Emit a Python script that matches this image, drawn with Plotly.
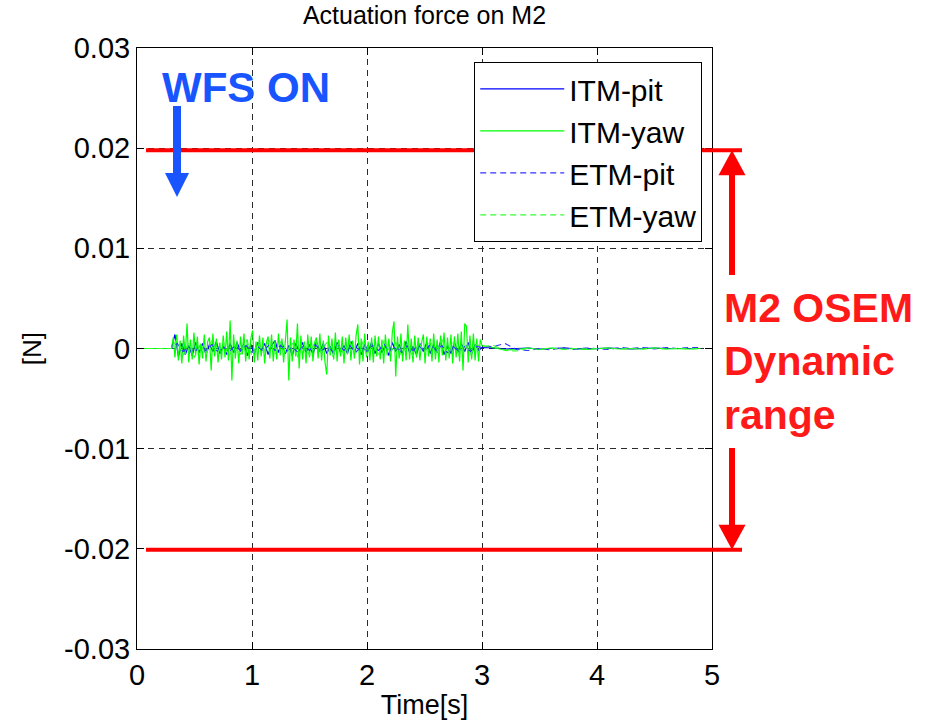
import plotly.graph_objects as go

# ---------------- data (forces read in mN, converted to N) ----------------
# ITM-yaw (green solid): dense noise between 0.30 s and 3.00 s
itm_yaw_noise_mN = [
    0.0, 1.1, -0.9, 1.4, -1.2, 0.8, -1.5, 1.3, -0.6, 2.5,
    -1.4, 0.9, -1.1, 1.6, -0.7, 1.2, -1.6, 0.5, -1.0, 1.4,
    -1.3, 0.7, 1.1, -2.2, 1.5, -0.8, 1.0, -1.4, 0.6, -1.1,
    1.3, -0.9, 1.7, -1.2, 2.8, -3.2, 1.4, -1.0, 0.8, -1.5,
    1.2, -0.6, 1.5, -1.3, 0.9, -1.1, 1.0, 1.8, -1.4, 0.7,
    -1.2, 1.3, -0.8, 1.1, -1.5, 0.6, 1.2, -1.0, 1.4, -1.3,
    0.8, -1.1, 1.5, -0.7, 1.0, -1.4, 1.2, 2.9, -3.2, 1.1,
    -1.3, 0.9, -0.8, 2.5, -2.0, 1.3, -1.1, 0.7, -1.5, 1.4,
    -0.9, 1.2, -1.3, 0.6, 1.1, -1.0, 1.5, -1.2, 0.8, -1.4,
    -2.6, 1.3, -0.7, 1.0, -1.1, 1.6, -1.3, 0.9, -0.8, 1.2,
    -1.5, 1.1, -0.6, 1.4, -1.2, 0.8, -1.0, 1.3, 2.4, -1.6,
    1.0, -1.3, 1.5, -0.9, 0.7, -1.2, 1.1, -1.4, 1.3, -0.8,
    1.2, -1.1, 0.9, -1.5, 1.4, -0.7, 1.0, -1.3, 1.6, 2.7,
    -2.8, 1.2, -1.0, 1.5, -1.3, 0.8, -1.2, 2.4, -1.1, 1.0,
    -1.4, 1.3, -0.9, 1.1, -1.2, 0.6, 1.4, -1.5, 1.2, -0.8,
    1.0, -1.3, 1.5, -1.1, 0.9, -1.4, 1.3, -0.7, 1.6, -1.2,
    1.1, -1.0, 1.4, -1.5, 1.2, -0.9, 1.5, -1.3, 1.7, -2.2,
    2.5, 2.2, -1.4, 1.3, -1.1, 1.5, -1.2, 1.0, -1.3, 0.9,
    0.3,
]
# ITM-pit (blue solid)
itm_pit_noise_mN = [
    0.0, 1.4, -0.8, 0.5, -0.6, 0.3, -0.7, 0.6, -0.4, 0.5,
    -0.6, 0.4, -0.3, 0.7, -0.5, 0.2, -0.6, 0.5, -0.4, 0.6,
    -0.3, 0.5, -0.7, 0.4, -0.5, 0.6, -0.2, 0.5, -0.6, 0.3,
    0.8, -0.4, 0.6, -0.5, 0.3, -0.7, 0.5, -0.3, 0.6, -0.4,
    0.4, -0.6, 0.7, -0.3, 0.5, -0.5, 0.2, -0.6, 0.6, -0.4,
    0.3, -0.5, 0.7, -0.4, 0.5, -0.6, 0.4, -0.3, 0.6, -0.5,
    0.5, -0.4, 0.3, -0.7, 0.6, -0.3, 0.4, -0.5, 0.7, -0.4,
    0.2, -0.6, 0.5, -0.3, 0.6, -0.5, 0.4, -0.4, 0.7, -0.6,
    0.3, -0.5, 0.6, -0.4, 0.5, -0.3, 0.6, -0.5, 0.4, -0.2,
    0.1,
]
# ETM-pit (blue dashed)
etm_pit_noise_mN = [
    0.0, 0.5, -0.3, 0.2, -0.4, 0.3, -0.2, 0.4, -0.3, 0.2,
    -0.4, 0.3, -0.2, 0.3, -0.4, 0.2, -0.3, 0.4, -0.2, 0.3,
    -0.3, 0.2, -0.4, 0.3, -0.2, 0.4, -0.3, 0.2, -0.3, 0.4,
    -0.2, 0.3, -0.4, 0.2, -0.3, 0.3, -0.2, 0.4, -0.3, 0.2,
    -0.4, 0.3, -0.2, 0.3, -0.3, 0.4, -0.2, 0.3, -0.4, 0.2,
    -0.3, 0.2, -0.3, 0.2, 0.1,
]
# ETM-yaw (green dashed)
etm_yaw_noise_mN = [
    0.0, 0.9, -0.7, 0.6, -0.9, 0.5, -0.6, 0.8, -0.5, 0.7,
    -0.8, 0.4, -0.6, 0.9, -0.7, 0.5, -0.4, 0.8, -0.6, 0.7,
    -0.5, 0.6, -0.9, 0.5, -0.7, 0.8, -0.4, 0.6, -0.8, 0.5,
    -0.6, 0.7, -0.5, 0.9, -0.7, 0.4, -0.6, 0.8, -0.5, 0.6,
    -0.7, 0.5, -0.8, 0.6, -0.4, 0.7, -0.6, 0.9, -0.5, 0.6,
    -0.7, 0.5, -0.6, 0.4, 0.2,
]
# settled tails after WFS transient (3.1 s ... 4.9 s)
itm_pit_tail_mN = [0.05, -0.05, 0.0, 0.05, -0.05, 0.0, 0.05, 0.0, -0.05, 0.0,
                   0.05, 0.0, -0.05, 0.0, 0.05, 0.0, 0.0, 0.05, 0.0]
itm_yaw_tail_mN = [0.1, -0.15, -0.1, 0.05, -0.1, 0.05, -0.05, 0.0, -0.1, 0.0,
                   0.05, -0.05, 0.0, -0.05, 0.05, -0.05, 0.0, -0.05, 0.0]
etm_pit_tail_mN = [0.2, 0.5, -0.1, -0.2, 0.0, -0.15, 0.1, -0.1, 0.05, 0.0,
                   -0.1, 0.1, 0.0, 0.1, -0.05, 0.1, 0.0, 0.1, 0.1]
etm_yaw_tail_mN = [0.3, -0.2, -0.25, 0.05, -0.1, 0.05, -0.1, 0.0, -0.05, 0.0,
                   0.05, -0.05, 0.0, -0.05, 0.05, -0.05, 0.0, -0.05, 0.0]

# sample times (s)
t_itm_yaw_noise = [round(0.30 + 0.015 * i, 3) for i in range(len(itm_yaw_noise_mN))]
t_itm_pit_noise = [round(0.30 + 0.03 * i, 3) for i in range(len(itm_pit_noise_mN))]
t_etm_noise = [round(0.30 + 0.05 * i, 3) for i in range(len(etm_pit_noise_mN))]
t_tail = [round(3.1 + 0.1 * i, 2) for i in range(len(itm_pit_tail_mN))]

series_names = ["ITM-pit", "ITM-yaw", "ETM-pit", "ETM-yaw"]
series_colors = ["#0000ff", "#00ff00", "#3333ff", "#33ff33"]

dyn_range_top = 0.0198
dyn_range_bottom = -0.0201

xtick_vals = [0, 1, 2, 3, 4, 5]
xtick_text = ["0", "1", "2", "3", "4", "5"]
ytick_vals = [-0.03, -0.02, -0.01, 0, 0.01, 0.02, 0.03]
ytick_text = ["-0.03", "-0.02", "-0.01", "0", "0.01", "0.02", "0.03"]
y_range = [-0.03, 0.03]
x_range = [0, 5]


def to_N(vals):
    return [v * 1e-3 for v in vals]


series = [
    ([0.0] + t_itm_pit_noise + t_tail, to_N([0.0] + itm_pit_noise_mN + itm_pit_tail_mN), "solid"),
    ([0.0] + t_itm_yaw_noise + t_tail, to_N([0.0] + itm_yaw_noise_mN + itm_yaw_tail_mN), "solid"),
    ([0.0] + t_etm_noise + t_tail, to_N([0.0] + etm_pit_noise_mN + etm_pit_tail_mN), "6px,4px"),
    ([0.0] + t_etm_noise + t_tail, to_N([0.0] + etm_yaw_noise_mN + etm_yaw_tail_mN), "6px,4px"),
]

FONT = "Liberation Sans, Arial, Helvetica, sans-serif"

fig = go.Figure()
for (tx, yv, dash), name, col in zip(series, series_names, series_colors):
    fig.add_trace(go.Scatter(x=tx, y=yv, mode="lines", name=name,
                             line=dict(color=col, width=1.2, dash=dash)))


def ypaper(v):
    return (v - y_range[0]) / (y_range[1] - y_range[0])


RED = "#ff0000"
BLUE = "#1955ff"
shapes = []
# dynamic range lines
for v in (dyn_range_top, dyn_range_bottom):
    shapes.append(dict(type="line", xref="paper", yref="paper", x0=0.0157, x1=1.0522,
                       y0=ypaper(v), y1=ypaper(v), line=dict(color=RED, width=4)))
# red double arrow (split around text)
ax = 1.0348
hw = 0.0235
yt = ypaper(dyn_range_top)
yb = ypaper(dyn_range_bottom)
head = 25 / 601
shapes.append(dict(type="line", xref="paper", yref="paper", x0=ax, x1=ax,
                   y0=yt - head + 0.003, y1=(649 - 275) / 601, line=dict(color=RED, width=6)))
shapes.append(dict(type="line", xref="paper", yref="paper", x0=ax, x1=ax,
                   y0=(649 - 448) / 601, y1=yb + head - 0.003, line=dict(color=RED, width=6)))
shapes.append(dict(type="path", xref="paper", yref="paper",
                   path=f"M {ax} {yt} L {ax - hw} {yt - head} L {ax + hw} {yt - head} Z",
                   fillcolor=RED, line=dict(width=0)))
shapes.append(dict(type="path", xref="paper", yref="paper",
                   path=f"M {ax} {yb} L {ax - hw} {yb + head} L {ax + hw} {yb + head} Z",
                   fillcolor=RED, line=dict(width=0)))
# blue arrow
bx = 0.0696
bhw = 0.0209
b_top = (649 - 106) / 601
b_base = (649 - 173) / 601
b_tip = (649 - 197) / 601
shapes.append(dict(type="line", xref="paper", yref="paper", x0=bx, x1=bx,
                   y0=b_top, y1=b_base - 0.003, line=dict(color=BLUE, width=8)))
shapes.append(dict(type="path", xref="paper", yref="paper",
                   path=f"M {bx} {b_tip} L {bx - bhw} {b_base} L {bx + bhw} {b_base} Z",
                   fillcolor=BLUE, line=dict(width=0)))

annotations = [
    dict(text="<b>WFS ON</b>", xref="paper", yref="paper", x=0.040, y=(649 - 87) / 601,
         xanchor="left", yanchor="middle", showarrow=False,
         font=dict(family=FONT, size=42, color=BLUE)),
    dict(text="<b>M2 OSEM<br>Dynamic<br>range</b>", xref="paper", yref="paper",
         x=1.0174, y=(649 - 361) / 601, xanchor="left", yanchor="middle", align="left",
         showarrow=False, font=dict(family=FONT, size=41, color="#ff1a1a")),
]

axis_common = dict(showline=True, linecolor="black", linewidth=1, mirror="allticks",
                   ticks="inside", ticklen=7, tickcolor="black", tickwidth=1,
                   showgrid=True, gridcolor="#2a2a2a", gridwidth=1, griddash="6px,5px",
                   zeroline=False, tickfont=dict(family=FONT, size=29, color="black"))

fig.update_layout(
    width=936, height=724,
    margin=dict(l=137, r=224, t=48, b=75, autoexpand=False),
    paper_bgcolor="white", plot_bgcolor="white",
    font=dict(family=FONT, color="black"),
    title=dict(text="Actuation force on M2", x=0.5, xref="paper", xanchor="center",
               y=1 - 15 / 724, yref="container", yanchor="middle",
               font=dict(family=FONT, size=25, color="black")),
    xaxis=dict(range=x_range, tickvals=xtick_vals, ticktext=xtick_text,
               title=dict(text="Time[s]", font=dict(family=FONT, size=27), standoff=5),
               **axis_common),
    yaxis=dict(range=y_range, tickvals=ytick_vals, ticktext=ytick_text,
               title=dict(text="[N]", font=dict(family=FONT, size=26), standoff=14),
               **axis_common),
    legend=dict(x=0.983, y=0.977, xanchor="right", yanchor="top",
                bgcolor="white", bordercolor="black", borderwidth=1,
                font=dict(family=FONT, size=30, color="black"),
                itemwidth=84, tracegroupgap=0),
    shapes=shapes,
    annotations=annotations,
    showlegend=True,
)

fig.write_html("out.html", config={"displayModeBar": False},
               post_script="document.body.style.margin='0';document.body.style.overflow='hidden';")
